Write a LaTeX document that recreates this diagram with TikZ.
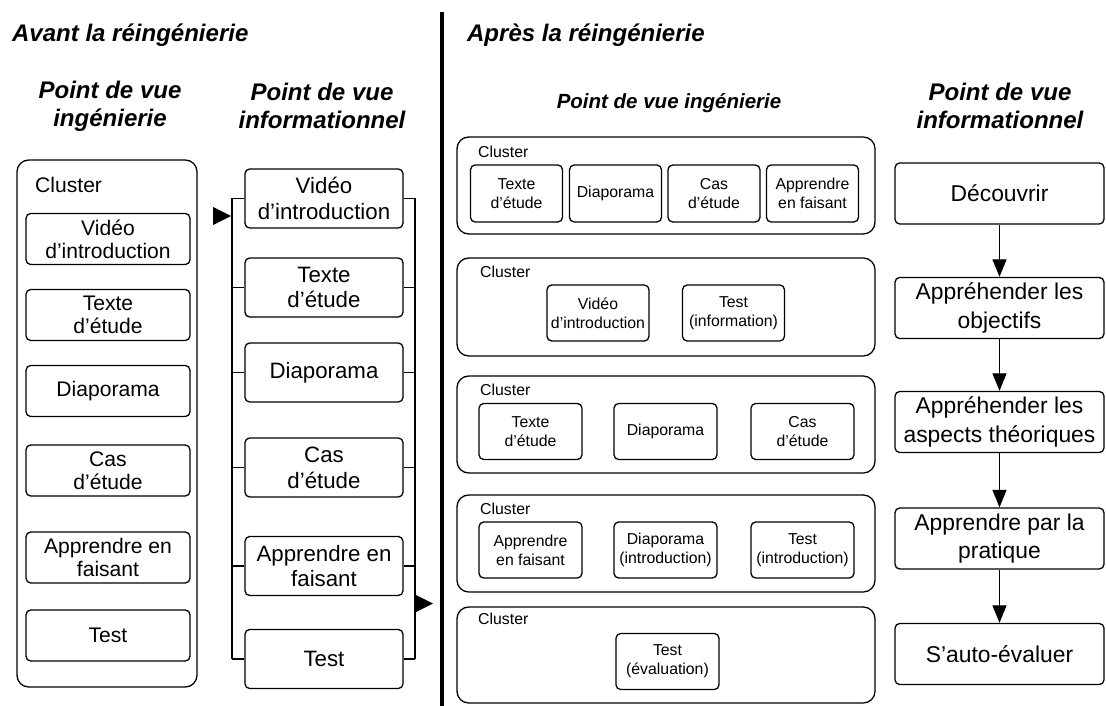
\documentclass[tikz,border=0pt]{standalone}
\usepackage{fontspec}
\setmainfont{Liberation Sans}
\usetikzlibrary{arrows.meta}
\newcommand{\pxu}{0.03cm}

\begin{document}
\begin{tikzpicture}[x=0.03cm, y=-0.03cm,
    titre/.style={font=\fontsize{20.5}{24}\selectfont\bfseries\itshape, align=center},
    clusterbox/.style={draw, line width=1.1pt, rounded corners=10pt, inner sep=0pt},
    leftbox/.style={draw, line width=1.1pt, rounded corners=4pt, align=center, inner sep=0pt,
        minimum width=164*\pxu, minimum height=51*\pxu, font=\fontsize{18}{19.5}\selectfont},
    midbox/.style={leftbox, minimum width=158*\pxu, minimum height=59*\pxu, font=\fontsize{19}{22}\selectfont},
    flowbox/.style={leftbox, minimum width=209*\pxu, minimum height=61*\pxu, font=\fontsize{19.5}{24}\selectfont},
    smallbox/.style={draw, line width=1.1pt, rounded corners=4pt, align=center, inner sep=0pt,
        minimum width=92*\pxu, minimum height=57*\pxu, font=\fontsize{13.5}{16}\selectfont},
    widebox/.style={smallbox, minimum width=103*\pxu, minimum height=56*\pxu},
    clabel/.style={anchor=west, inner sep=0pt, font=\fontsize{13.5}{16}\selectfont},
    flow/.style={line width=1.1pt, -{Triangle[length=15pt, width=12pt]}}]

\useasboundingbox (0,0) rectangle (1106,706);

% Titles and separation line
\node[titre, anchor=west] (avant) at (8,35) {Avant la réingénierie};
\node[titre, anchor=west] (apres) at (463,35) {Après la réingénierie};
\draw[line width=3.4pt] (442,12) -- (442,706);

% Before: engineering view
\node[titre] (pvIngA) at (110,106) {Point de vue\\ingénierie};
\node[clusterbox, minimum width=180*\pxu, minimum height=527*\pxu] (clA) at (107,423.5) {};
\node[clabel, font=\fontsize{18}{19}\selectfont] (clAlab) at (35,185) {Cluster};
\node[leftbox] (aVideo) at (108,239) {Vidéo\\d'introduction};
\node[leftbox] (aTexte) at (108,315) {Texte\\d'étude};
\node[leftbox] (aDiapo) at (108,391) {Diaporama};
\node[leftbox] (aCas) at (108,470.5) {Cas\\d'étude};
\node[leftbox] (aFaire) at (108,557.5) {Apprendre en\\faisant};
\node[leftbox] (aTest) at (108,635.5) {Test};

% Before: informational view
\node[titre] (pvInfA) at (322,106) {Point de vue\\informationnel};
\node[midbox] (bVideo) at (324,198.5) {Vidéo\\d'introduction};
\node[midbox] (bTexte) at (324,287.5) {Texte\\d'étude};
\node[midbox] (bDiapo) at (324,372.5) {Diaporama};
\node[midbox] (bCas) at (324,467.5) {Cas\\d'étude};
\node[midbox] (bFaire) at (324,566) {Apprendre en\\faisant};
\node[midbox] (bTest) at (324,659) {Test};
\coordinate (brL1) at (232,198.5);
\coordinate (brL2) at (232,659);
\coordinate (brR1) at (415,198.5);
\coordinate (brR2) at (415,659);
\draw[line width=1.1pt] (brL1) -- (brL2);
\draw[line width=1.1pt] (brR1) -- (brR2);
\foreach \b in {bVideo, bTexte, bDiapo, bCas, bFaire, bTest} {
    \draw[line width=1.1pt] (\b.west) -- (brL1 |- \b.west);
    \draw[line width=1.1pt] (\b.east) -- (brR1 |- \b.east);
}
\fill (213,207) -- (231,216) -- (213,225) -- cycle;
\fill (416,595) -- (433,603.5) -- (416,612) -- cycle;

% After: engineering view
\node[titre, font=\fontsize{17.5}{21}\selectfont\bfseries\itshape] (pvIngB) at (669,103) {Point de vue ingénierie};

\node[clusterbox, minimum width=418*\pxu, minimum height=97*\pxu] (c1) at (666,185.5) {};
\node[clabel] (c1lab) at (478,152) {Cluster};
\node[smallbox] (c1Texte) at (516.5,193.5) {Texte\\d'étude};
\node[smallbox] (c1Diapo) at (615.5,193.5) {Diaporama};
\node[smallbox] (c1Cas) at (714,193.5) {Cas\\d'étude};
\node[smallbox] (c1Faire) at (812.5,193.5) {Apprendre\\en faisant};

\node[clusterbox, minimum width=418*\pxu, minimum height=98*\pxu] (c2) at (666,307) {};
\node[clabel] (c2lab) at (480,272) {Cluster};
\node[widebox, minimum width=102*\pxu] (c2Video) at (598,313) {Vidéo\\d'introduction};
\node[widebox, minimum width=102*\pxu] (c2Test) at (733.5,313) {Test\\(information)};

\node[clusterbox, minimum width=418*\pxu, minimum height=97*\pxu] (c3) at (666,424.5) {};
\node[clabel] (c3lab) at (480,390) {Cluster};
\node[widebox] (c3Texte) at (530.5,431.5) {Texte\\d'étude};
\node[widebox] (c3Diapo) at (665.5,431.5) {Diaporama};
\node[widebox] (c3Cas) at (802.5,431.5) {Cas\\d'étude};

\node[clusterbox, minimum width=418*\pxu, minimum height=97*\pxu] (c4) at (666,543.5) {};
\node[clabel] (c4lab) at (480,509) {Cluster};
\node[widebox] (c4Faire) at (530.5,550) {Apprendre\\en faisant};
\node[widebox] (c4Diapo) at (665.5,550) {Diaporama\\(introduction)};
\node[widebox] (c4Test) at (802.5,550) {Test\\(introduction)};

\node[clusterbox, minimum width=418*\pxu, minimum height=96*\pxu] (c5) at (666,655) {};
\node[clabel] (c5lab) at (478,619) {Cluster};
\node[widebox] (c5Test) at (667.5,661.5) {Test\\(évaluation)};

% After: informational view
\node[titre] (pvInfB) at (1000,106) {Point de vue\\informationnel};
\node[flowbox] (decouvrir) at (999.5,193.5) {Découvrir};
\node[flowbox] (objectifs) at (999.5,308) {Appréhender les\\objectifs};
\node[flowbox] (aspects) at (999.5,422) {Appréhender les\\aspects théoriques};
\node[flowbox] (pratique) at (999.5,538.5) {Apprendre par la\\pratique};
\node[flowbox] (evaluer) at (999.5,654) {S'auto-évaluer};
\draw[flow] (decouvrir) -- (objectifs);
\draw[flow] (objectifs) -- (aspects);
\draw[flow] (aspects) -- (pratique);
\draw[flow] (pratique) -- (evaluer);

\end{tikzpicture}
\end{document}
